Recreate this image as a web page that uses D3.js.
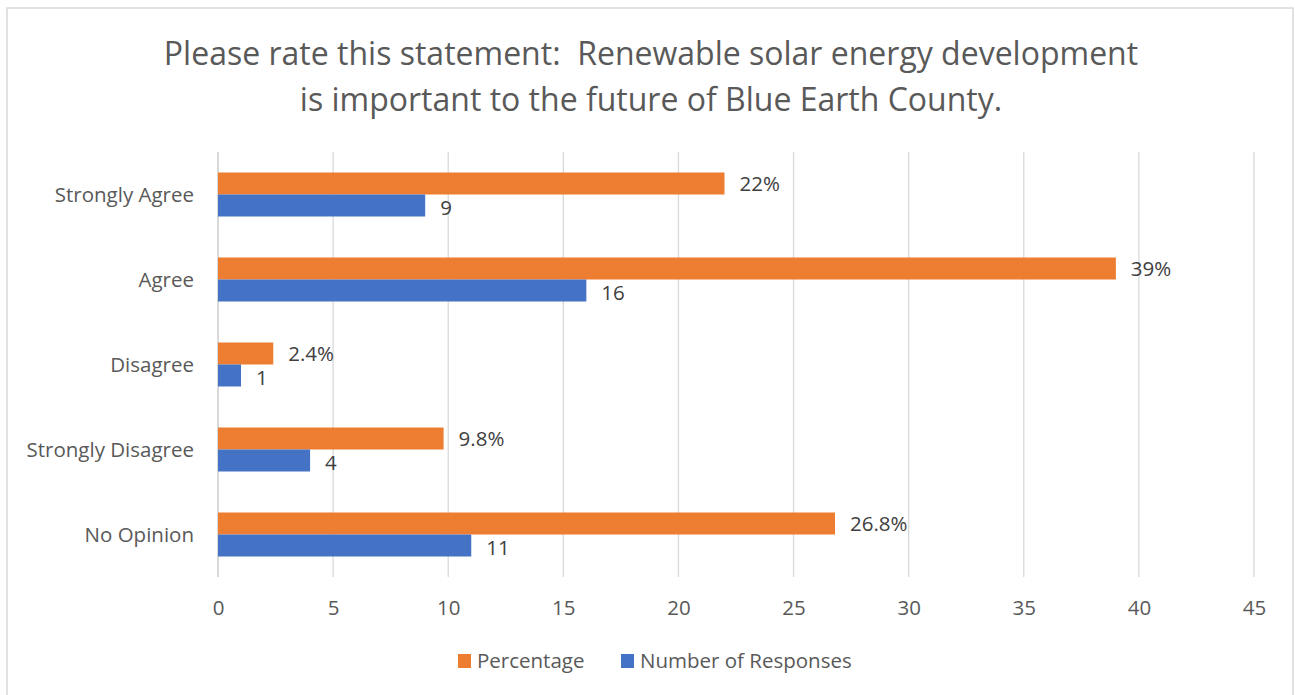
<!DOCTYPE html>
<html>
<head>
<meta charset="utf-8">
<script src="https://cdn.jsdelivr.net/npm/d3@7"></script>
<style>
  body { margin: 0; background: #fff; }
  text { font-family: "Open Sans", sans-serif; }
</style>
</head>
<body>
<div id="chart"></div>
<script>
// survey answers, top to bottom
const categories = ['Strongly Agree', 'Agree', 'Disagree', 'Strongly Disagree', 'No Opinion']
const percentage = [22, 39, 2.4, 9.8, 26.8]
const percentLabels = ['22%', '39%', '2.4%', '9.8%', '26.8%']
const responses = [9, 16, 1, 4, 11]
const xTicks = [0, 5, 10, 15, 20, 25, 30, 35, 40, 45]
const seriesNames = ['Percentage', 'Number of Responses']
const titleLines = ['Please rate this statement:  Renewable solar energy development',
                    'is important to the future of Blue Earth County.']

const width = 1295
const height = 695
const orange = '#ed7d31'
const blue = '#4472c4'
const fontSize = 20.5

const svg = d3.select('#chart')
    .append('svg')
    .attr('width', width)
    .attr('height', height)

// chart frame
svg.append('rect')
    .attr('x', 7).attr('y', 8)
    .attr('width', 1286).attr('height', 700)
    .attr('fill', 'none')
    .attr('stroke', '#d9d9d9')
    .attr('stroke-width', 1.5)

svg.selectAll('.title')
    .data(titleLines)
    .join('text')
    .attr('class', 'title')
    .attr('x', 651)
    .attr('y', (d, i) => 65 + i * 46)
    .attr('text-anchor', 'middle')
    .attr('font-size', 32)
    .attr('fill', '#595959')
    .style('white-space', 'pre')
    .text(d => d)

const plot = { left: 218, right: 1254, top: 152, bottom: 577 }

let xScale = d3.scaleLinear()
    .domain([0, 45])
    .range([plot.left, plot.right])

let yScale = d3.scaleBand()
    .domain(categories)
    .range([plot.top, plot.bottom])

let inner = d3.scaleBand()
    .domain([0, 1])
    .range([0, 44])

// gridlines
svg.append('g')
    .selectAll('line')
    .data(xTicks)
    .join('line')
    .attr('x1', d => xScale(d)).attr('x2', d => xScale(d))
    .attr('y1', plot.top).attr('y2', plot.bottom)
    .attr('stroke', '#d9d9d9')
    .attr('stroke-width', d => d === 0 ? 2 : 1.3)

let xAxis = d3.axisBottom(xScale)
    .tickValues(xTicks)
    .tickSize(0)
    .tickPadding(0)

let xAxisGroup = svg.append('g')
    .attr('class', 'x-axis')
    .attr('transform', `translate(0,${plot.bottom + 23})`)
    .call(xAxis)
xAxisGroup.select('.domain').remove()
xAxisGroup.selectAll('text')
    .attr('font-size', fontSize)
    .attr('fill', '#595959')
    .attr('font-family', '"Open Sans", sans-serif')

let yAxis = d3.axisLeft(yScale).tickSize(0).tickPadding(24)
let yAxisGroup = svg.append('g')
    .attr('class', 'y-axis')
    .attr('transform', `translate(${plot.left},1)`)
    .call(yAxis)
yAxisGroup.select('.domain').remove()
yAxisGroup.selectAll('text')
    .attr('font-size', fontSize)
    .attr('fill', '#595959')
    .attr('font-family', '"Open Sans", sans-serif')

const rows = categories.map((c, i) => ({ cat: c, pct: percentage[i], pctLabel: percentLabels[i], n: responses[i] }))

const g = svg.append('g')
    .selectAll('g')
    .data(rows)
    .join('g')
    .attr('transform', d => `translate(0,${yScale(d.cat) + yScale.bandwidth() / 2 - 22})`)

g.append('rect')
    .attr('x', xScale(0))
    .attr('y', inner(0))
    .attr('width', d => xScale(d.pct) - xScale(0))
    .attr('height', inner.bandwidth())
    .attr('fill', orange)

g.append('rect')
    .attr('x', xScale(0))
    .attr('y', inner(1))
    .attr('width', d => xScale(d.n) - xScale(0))
    .attr('height', inner.bandwidth())
    .attr('fill', blue)

g.append('text')
    .attr('x', d => xScale(d.pct) + 15)
    .attr('y', inner(0) + inner.bandwidth() / 2)
    .attr('dy', '0.35em')
    .attr('font-size', fontSize)
    .attr('fill', '#404040')
    .text(d => d.pctLabel)

g.append('text')
    .attr('x', d => xScale(d.n) + 15)
    .attr('y', inner(1) + inner.bandwidth() / 2 + 2)
    .attr('dy', '0.35em')
    .attr('font-size', fontSize)
    .attr('fill', '#404040')
    .text(d => d.n)

// legend
const legendX = [458, 621]
const legend = svg.append('g')
    .selectAll('g')
    .data(seriesNames)
    .join('g')
    .attr('transform', (d, i) => `translate(${legendX[i]},654)`)

legend.append('rect')
    .attr('width', 13).attr('height', 14)
    .attr('fill', (d, i) => i === 0 ? orange : blue)

legend.append('text')
    .attr('x', 19)
    .attr('y', 7)
    .attr('dy', '0.35em')
    .attr('font-size', fontSize)
    .attr('fill', '#595959')
    .text(d => d)
</script>
</body>
</html>
